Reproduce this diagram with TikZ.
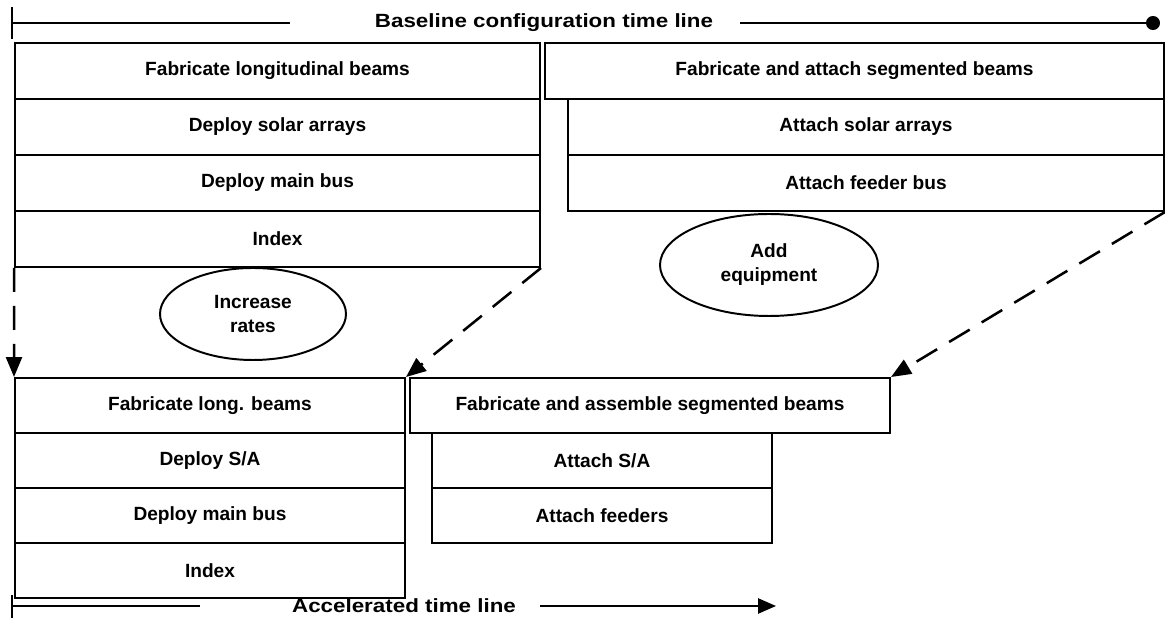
\documentclass[tikz,border=0pt]{standalone}
\usepackage{fontspec}
\setmainfont{Liberation Sans}
\newfontfamily\widefont[FakeStretch=1.17]{Liberation Sans}
\usetikzlibrary{shapes.geometric,arrows.meta}

\tikzset{
  box/.style={rectangle,draw,line width=1.4pt,inner sep=0pt,font=\fontsize{13.6}{15}\selectfont\bfseries},
  oval/.style={ellipse,draw,line width=1.4pt,inner sep=0pt,align=center,font=\fontsize{13.6}{17}\selectfont\bfseries},
  jumparrow/.style={line width=1.8pt,dash pattern=on 0.6cm off 0.35cm,-{Triangle[length=0.5cm,width=0.4cm]}},
  timeline/.style={line width=1.4pt},
  tlabel/.style={inner sep=0pt,font=\widefont\fontsize{13.6}{15}\selectfont\bfseries}
}

\begin{document}
\begin{tikzpicture}
\useasboundingbox (0,0) rectangle (29.125,15.475);
\begin{scope}
% baseline configuration
\node (FLB) at (6.9375,13.7) [box,minimum width=13.125cm,minimum height=1.4cm] {Fabricate longitudinal beams};
\node (DSA) at (6.9375,12.3) [box,minimum width=13.125cm,minimum height=1.4cm] {Deploy solar arrays};
\node (DMB) at (6.9375,10.9) [box,minimum width=13.125cm,minimum height=1.4cm] {Deploy main bus};
\node (IDX) at (6.9375,9.5) [box,minimum width=13.125cm,minimum height=1.4cm] {Index};
\node (FSB) at (21.3625,13.7) [box,minimum width=15.475cm,minimum height=1.4cm] {Fabricate and attach segmented beams};
\node (ASA) at (21.65,12.3) [box,minimum width=14.9cm,minimum height=1.4cm] {Attach solar arrays};
\node (AFB) at (21.65,10.9) [box,minimum width=14.9cm,minimum height=1.4cm] {Attach feeder bus};
\node (IR) at (6.325,7.625) [oval,minimum width=4.65cm,minimum height=2.3cm] {Increase\\ rates};
\node (AE) at (19.225,8.85) [oval,minimum width=5.45cm,minimum height=2.55cm] {Add\\ equipment};
% accelerated
\node (FLBa) at (5.25,5.3375) [box,minimum width=9.75cm,minimum height=1.375cm] {Fabricate long. beams};
\node (DSAa) at (5.25,3.9625) [box,minimum width=9.75cm,minimum height=1.375cm] {Deploy S/A};
\node (DMBa) at (5.25,2.5875) [box,minimum width=9.75cm,minimum height=1.375cm] {Deploy main bus};
\node (IDXa) at (5.25,1.2125) [box,minimum width=9.75cm,minimum height=1.375cm] {Index};
\node (FASB) at (16.25,5.3375) [box,minimum width=12cm,minimum height=1.375cm] {Fabricate and assemble segmented beams};
\node (ASAa) at (15.05,3.9625) [box,minimum width=8.5cm,minimum height=1.375cm] {Attach S/A};
\node (AFa) at (15.05,2.5875) [box,minimum width=8.5cm,minimum height=1.375cm] {Attach feeders};
\draw[jumparrow] (IDX.south west) -- (FLBa.north west);
\draw[jumparrow] (IDX.south east) -- (FLBa.north east);
\draw[jumparrow] (AFB.south east) -- (FASB.north east);
% time lines
\node (BTL) at (13.6,14.9) [tlabel] {Baseline configuration time line};
\coordinate (BT0) at (0.3,14.9);
\coordinate (BTa) at (7.25,14.9);
\coordinate (BTb) at (18.5,14.9);
\coordinate (BT1) at (29.0,14.9);
\draw[timeline] ([yshift=-0.4cm]BT0) -- ([yshift=0.4cm]BT0);
\draw[timeline] (BT0) -- (BTa);
\draw[timeline,-{Circle[length=0.35cm]}] (BTb) -- (BT1);
\node (ATL) at (10.1,0.325) [tlabel] {Accelerated time line};
\coordinate (AT0) at (0.3,0.325);
\coordinate (ATa) at (5.0,0.325);
\coordinate (ATb) at (13.5,0.325);
\coordinate (AT1) at (19.4,0.325);
\draw[timeline] ([yshift=-0.3cm]AT0) -- ([yshift=0.28cm]AT0);
\draw[timeline] (AT0) -- (ATa);
\draw[timeline,-{Triangle[length=0.45cm,width=0.38cm]}] (ATb) -- (AT1);
\end{scope}
\end{tikzpicture}
\end{document}
